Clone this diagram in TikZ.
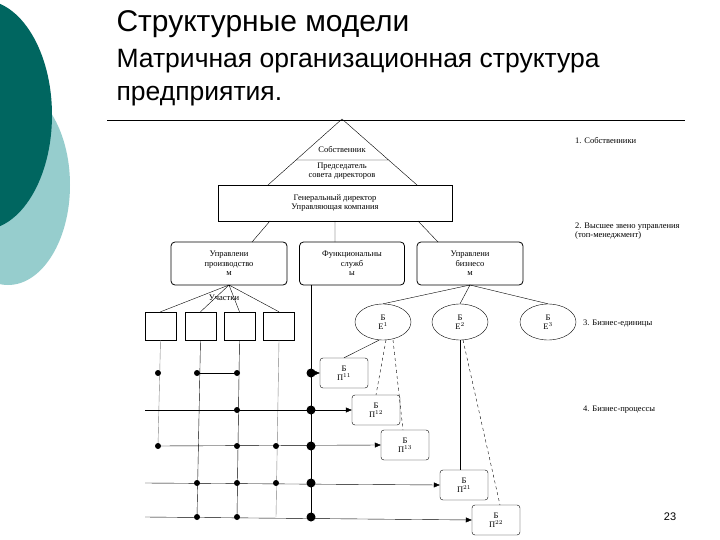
\documentclass[tikz,border=0pt]{standalone}
\usepackage{fontspec}
\setmainfont{Liberation Serif}
\newfontfamily\ttl{Liberation Sans}
\usetikzlibrary{arrows.meta,shapes.geometric}
\definecolor{lt}{RGB}{150,205,205}
\definecolor{dt}{RGB}{0,102,96}
\begin{document}
\begin{tikzpicture}[x=1pt,y=-1pt,
  t/.style={font=\fontsize{8.5}{9.5}\selectfont,align=center,inner sep=0pt},
  rb/.style={draw,rounded corners=4pt,thick},
  bp/.style={draw,rounded corners=3pt,minimum width=48pt,minimum height=30pt,inner sep=0pt,font=\fontsize{8.5}{9.5}\selectfont,align=center},
  be/.style={draw,ellipse,minimum width=56pt,minimum height=36pt,inner sep=0pt,font=\fontsize{8.5}{9.5}\selectfont,align=center},
  dot/.style={circle,fill,inner sep=0pt,minimum size=6pt},
  bdot/.style={circle,fill,inner sep=0pt,minimum size=9pt},
  ar/.style={-{Triangle[length=6pt,width=5pt]}},
  lab/.style={font=\fontsize{8.5}{9.5}\selectfont,anchor=west,inner sep=0pt,align=left}]
\useasboundingbox (0,0) rectangle (720,540);
\fill[white] (0,0) rectangle (720,540);
\fill[lt] (8,185) ellipse (62 and 100);
\fill[dt] (-18,115) ellipse (70 and 115);
\node[anchor=west,font=\ttl\fontsize{30}{34}\selectfont] (h1) at (113,24) {Структурные модели};
\node[anchor=west,font=\ttl\fontsize{26.5}{33}\selectfont,align=left] (h2) at (113,78) {Матричная организационная структура\\предприятия.};
\draw (107,120) -- (685,120);
% triangle and top box
\coordinate (ap) at (342,119);
\coordinate (bl) at (268,185);
\coordinate (br) at (417,185);
\draw (ap) -- (bl) (ap) -- (br) (296,160) -- (389,160);
\node[t] (own) at (342,150) {Собственник};
\node[t] (pred) at (342,171) {Председатель\\совета директоров};
\node[draw,minimum width=234pt,minimum height=36pt,inner sep=0pt,font=\fontsize{8.5}{9.5}\selectfont,align=center] (gd) at (335,203) {Генеральный директор\\Управляющая компания};
\node[rb,minimum width=116pt,minimum height=43pt,inner sep=0pt,font=\fontsize{8.5}{9.5}\selectfont,align=center] (up) at (229,263.5) {Управлени\\производство\\м};
\node[rb,minimum width=105pt,minimum height=43pt,inner sep=0pt,font=\fontsize{8.5}{9.5}\selectfont,align=center] (fs) at (352,263.5) {Функциональны\\служб\\ы};
\node[rb,minimum width=106pt,minimum height=43pt,inner sep=0pt,font=\fontsize{8.5}{9.5}\selectfont,align=center] (ub) at (470,263.5) {Управлени\\бизнесо\\м};
\draw (270,221) -- (252,242) (335,221) -- (335,242) (418,221) -- (438,242);
% squares
\foreach \n/\x in {s1/160.5,s2/200.5,s3/239.5,s4/279}{\node[draw,minimum width=31pt,minimum height=28pt,inner sep=0pt] (\n) at (\x,326) {};}
\node[t] (uch) at (224,298) {Участки};
\draw (229,285) -- (s1.north) (229,285) -- (s2.north) (229,285) -- (s3.north) (229,285) -- (s4.north);
% ellipses
\node[be] (e1) at (383,322) {Б\\Е$^{1}$};
\node[be] (e2) at (460,322) {Б\\Е$^{2}$};
\node[be] (e3) at (548,322) {Б\\Е$^{3}$};
\draw (470,285) -- (e1.north) (470,285) -- (e2.north) (470,285) -- (e3.north);
% BP boxes
\node[bp] (b11) at (344,373) {Б\\П$^{11}$};
\node[bp] (b12) at (376,410) {Б\\П$^{12}$};
\node[bp] (b13) at (405,445) {Б\\П$^{13}$};
\node[bp] (b21) at (464,485) {Б\\П$^{21}$};
\node[bp] (b22) at (496,520) {Б\\П$^{22}$};
\draw (e1.south) ++(-4,0) -- (b11.north);
\draw[dashed] (386,340) -- (b12.north);
\draw[dashed] (393,340) -- (403,430);
\draw (e2.south) -- (460,470);
\draw[dashed] (463,340) -- (500,505);
% grid
\coordinate (l2) at (145,410);
\coordinate (l4) at (145,483);
\coordinate (l5) at (145,517);
\draw[gray] (s1.south) -- (158,446);
\draw (s2.south) -- (197,517);
\draw (s3.south) -- (237,517);
\draw[gray] (s4.south) -- (276,517);
\draw[thick] (311,285) -- (311,517);
\draw[ar] (311,373) -- (b11.west);
\draw (197,373) -- (237,373);
\draw[ar] (l2) -- (b12.west);
\draw[ar] (158,446) -- (b13.west);
\draw[ar] (l4) -- (b21.west);
\draw[ar] (l5) -- (b22.west);
\foreach \p in {(158,373),(197,373),(237,373),(237,410),(158,446),(237,446),(276,446),(197,483),(237,483),(276,483),(197,517),(237,517)} \node[dot] at \p {};
\foreach \y in {373,410,446,483,517} \node[bdot] at (311,\y) {};
% right labels
\node[lab] (r1) at (575,141) {1. Собственники};
\node[lab] (r2) at (575,231) {2. Высшее звено управления\\(топ-менеджмент)};
\node[lab] (r3) at (583,324) {3. Бизнес-единицы};
\node[lab] (r4) at (583,410) {4. Бизнес-процессы};
\node[font=\ttl\fontsize{11}{12}\selectfont] (pg) at (670,517) {23};
\end{tikzpicture}
\end{document}
